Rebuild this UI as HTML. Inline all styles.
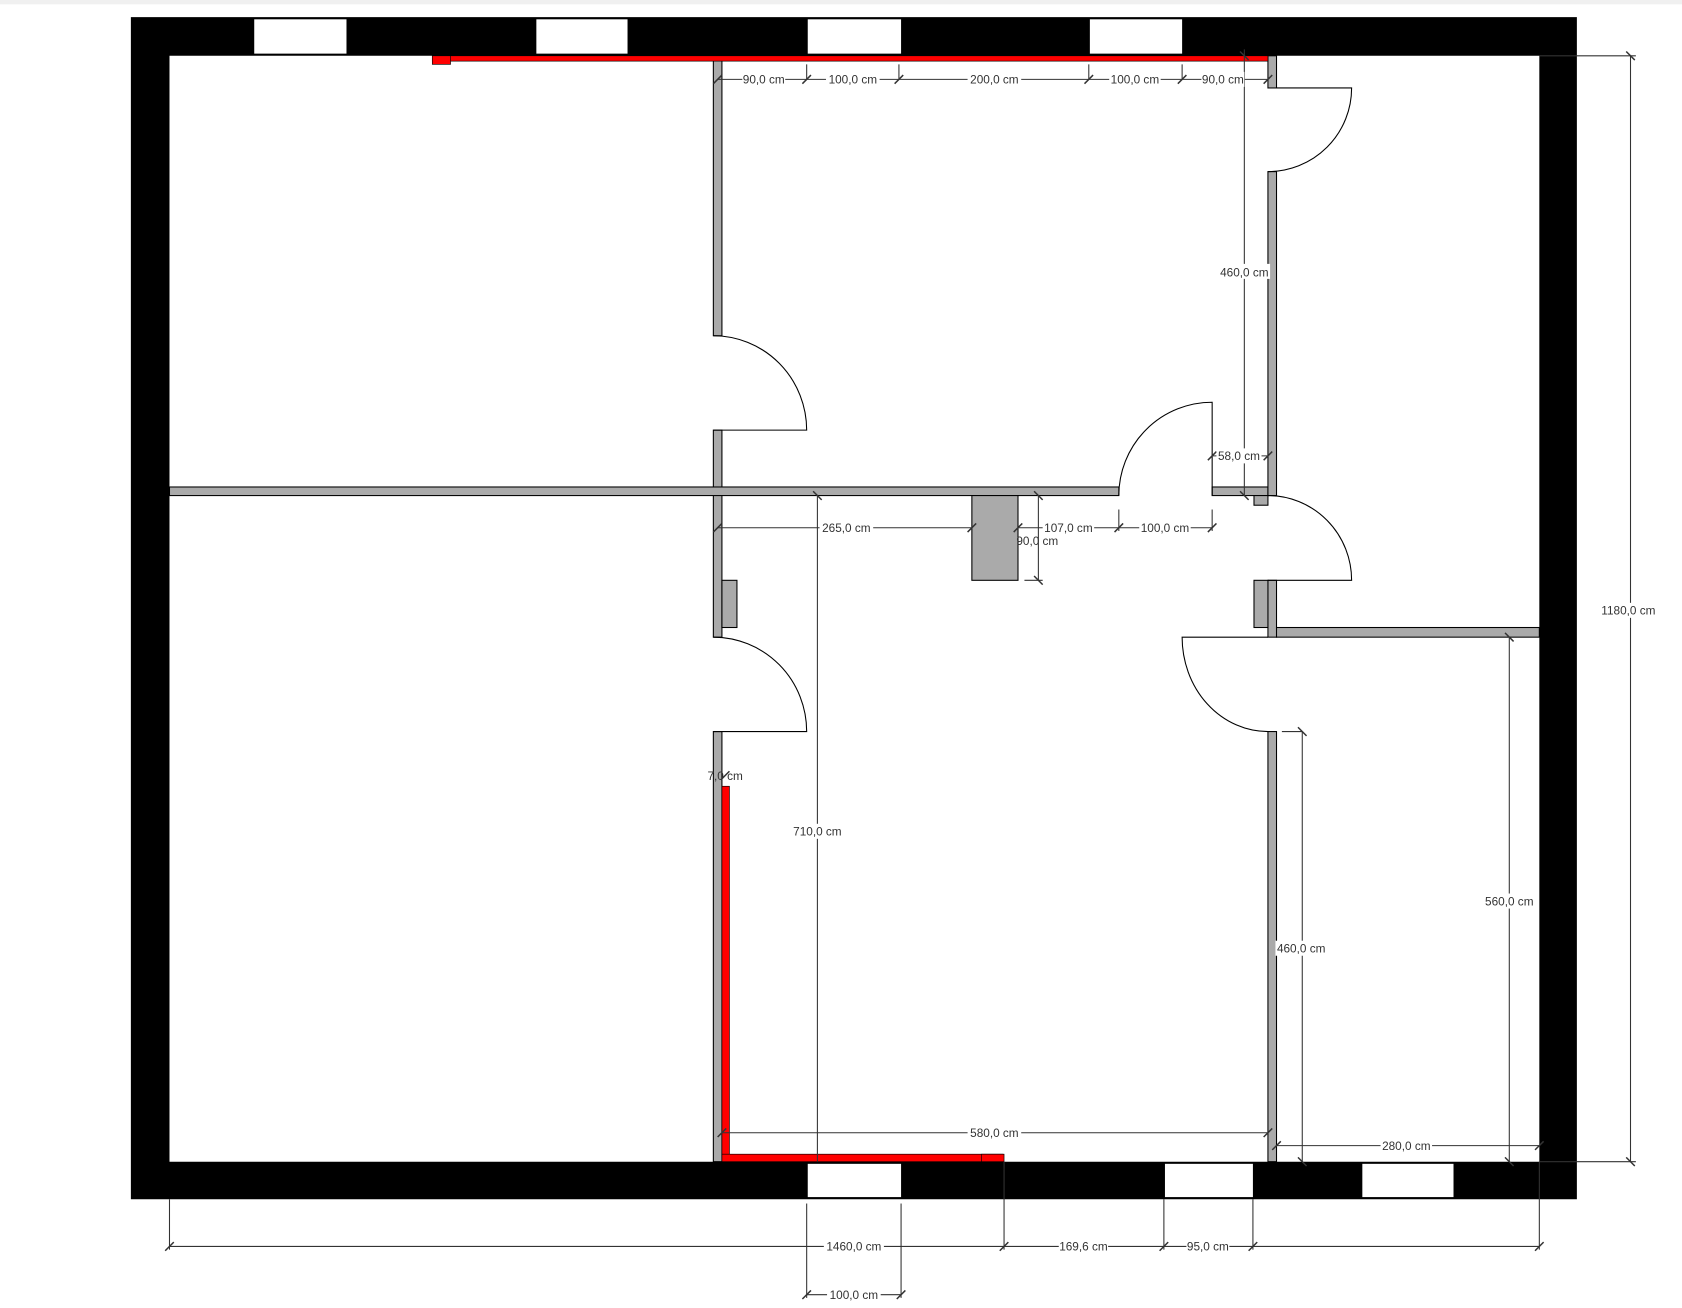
<!DOCTYPE html>
<html><head><meta charset="utf-8"><style>
html,body{margin:0;padding:0;background:#fff;}
svg{display:block;}
text{font-family:"Liberation Sans",sans-serif;font-size:11px;fill:#333;}
</style></head><body>
<svg width="1682" height="1308" viewBox="0 0 1568 1219.4" preserveAspectRatio="none" xmlns="http://www.w3.org/2000/svg">
<rect x="0" y="0" width="1568" height="4" fill="#f0f0f0"/>
<!-- outer walls -->
<path d="M122,16H1470V1118H122Z M158,52V1083H1435V52Z" fill="#000" fill-rule="evenodd"/>
<!-- windows -->
<g fill="#fff">
<rect x="237" y="18" width="86" height="32"/><rect x="500" y="18" width="85" height="32"/>
<rect x="753" y="18" width="87" height="32"/><rect x="1016" y="18" width="86" height="32"/>
<rect x="753" y="1085" width="87" height="31"/><rect x="1086" y="1085" width="82" height="31"/>
<rect x="1270" y="1085" width="85" height="31"/>
</g>
<!-- gray walls -->
<g fill="#aaa" stroke="#000" stroke-width="1">
<rect x="665" y="52" width="8" height="261"/>
<rect x="665" y="401" width="8" height="193"/>
<rect x="665" y="682" width="8" height="401"/>
<rect x="158" y="454" width="885" height="8"/>
<rect x="1130" y="454" width="52" height="8"/>
<rect x="1182" y="52" width="8" height="30"/>
<rect x="1182" y="160" width="8" height="302"/>
<rect x="1182" y="541" width="8" height="53"/>
<rect x="1190" y="585" width="245" height="9"/>
<rect x="1182" y="682" width="8" height="401"/>
<rect x="1169" y="462" width="13" height="9"/>
<rect x="1169" y="541" width="13" height="44"/>
<rect x="673" y="541" width="14" height="44"/>
<rect x="906" y="462" width="43" height="79"/>
</g>
<!-- red -->
<g fill="#f00" stroke="#000" stroke-width="0.6">
<rect x="403" y="52" width="779" height="5"/>
<rect x="403" y="52" width="17" height="8"/>
<rect x="673" y="733" width="7" height="350"/>
<rect x="673" y="1076" width="262" height="7"/>
<rect x="915" y="1076" width="21" height="7"/>
</g>
<!-- doors -->
<g fill="none" stroke="#000" stroke-width="1">
<path d="M665,401H752A87,88 0 0 0 665,313"/>
<path d="M665,682H752A87,88 0 0 0 665,594"/>
<path d="M1190,82H1260A78,78 0 0 1 1182,160"/>
<path d="M1130,462V375A87,87 0 0 0 1043,462"/>
<path d="M1182,541H1260A78,79 0 0 0 1182,462"/>
<path d="M1182,594H1102A80,88 0 0 0 1182,682"/>
</g>
<!-- dimension lines -->
<g stroke="#333" stroke-width="1" fill="none">
<line x1="669" y1="74" x2="1182" y2="74"/>
<line x1="1160" y1="46" x2="1160" y2="462"/>
<line x1="1130" y1="425" x2="1182" y2="425"/>
<line x1="669" y1="492" x2="906" y2="492"/>
<line x1="762" y1="462" x2="762" y2="1083"/>
<line x1="949" y1="492" x2="1130" y2="492"/>
<line x1="1043" y1="475" x2="1043" y2="495"/>
<line x1="1130" y1="475" x2="1130" y2="495"/>
<line x1="968" y1="462" x2="968" y2="541"/>
<line x1="955" y1="541" x2="972" y2="541"/>
<line x1="673" y1="1056" x2="1182" y2="1056"/>
<line x1="1190" y1="1068" x2="1435" y2="1068"/>
<line x1="1214" y1="682" x2="1214" y2="1083"/>
<line x1="1195" y1="682" x2="1214" y2="682"/>
<line x1="1407" y1="594" x2="1407" y2="1083"/>
<line x1="1520" y1="52" x2="1520" y2="1083"/>
<line x1="1435" y1="52" x2="1525" y2="52"/>
<line x1="1435" y1="1083" x2="1525" y2="1083"/>
<line x1="158" y1="1162" x2="1435" y2="1162"/>
<line x1="158" y1="1118" x2="158" y2="1165"/>
<line x1="936" y1="1083" x2="936" y2="1165"/>
<line x1="1085" y1="1118" x2="1085" y2="1165"/>
<line x1="1168" y1="1118" x2="1168" y2="1165"/>
<line x1="1435" y1="1083" x2="1435" y2="1165"/>
<line x1="752" y1="1122" x2="752" y2="1210"/>
<line x1="840" y1="1122" x2="840" y2="1210"/>
<line x1="752" y1="1207" x2="840" y2="1207"/>
<line x1="752" y1="60" x2="752" y2="74"/>
<line x1="838" y1="60" x2="838" y2="74"/>
<line x1="1015" y1="60" x2="1015" y2="74"/>
<line x1="1102" y1="60" x2="1102" y2="74"/>
</g>
<g stroke="#333" stroke-width="1.4">
<path d="M665,78l8,-8M748,78l8,-8M834,78l8,-8M1011,78l8,-8M1098,78l8,-8M1178,78l8,-8
M1156,48l8,8M1156,458l8,8M1126,429l8,-8M1178,429l8,-8
M665,496l8,-8M902,496l8,-8M758,458l8,8M945,496l8,-8M1039,496l8,-8M1126,496l8,-8
M964,458l8,8M964,537l8,8M672,727l8,-8M669,1060l8,-8M1178,1060l8,-8
M1186,1072l8,-8M1431,1072l8,-8M1210,678l8,8M1210,1079l8,8M1403,590l8,8M1403,1079l8,8
M1516,48l8,8M1516,1079l8,8M154,1166l8,-8M932,1166l8,-8M1081,1166l8,-8M1164,1166l8,-8M1431,1166l8,-8
M748,1211l8,-8M836,1211l8,-8"/>
</g>
<!-- labels -->
<g text-anchor="middle">
<g fill="#fff">
<rect x="692" y="67" width="40" height="14"/><rect x="770" y="67" width="50" height="14"/>
<rect x="902" y="67" width="50" height="14"/><rect x="1034" y="67" width="48" height="14"/>
<rect x="1120" y="67" width="40" height="14"/><rect x="1136" y="246" width="48" height="14"/>
<rect x="1134" y="418" width="42" height="14"/><rect x="764" y="485" width="50" height="14"/>
<rect x="972" y="485" width="48" height="14"/><rect x="1062" y="485" width="48" height="14"/>
<rect x="737" y="768" width="50" height="14"/><rect x="902" y="1049" width="50" height="14"/>
<rect x="1287" y="1061" width="48" height="14"/><rect x="1189" y="877" width="50" height="14"/>
<rect x="1383" y="833" width="50" height="14"/><rect x="1490" y="562" width="56" height="14"/>
<rect x="768" y="1155" width="56" height="14"/><rect x="987" y="1155" width="46" height="14"/>
<rect x="1106" y="1155" width="40" height="14"/><rect x="771" y="1200" width="50" height="14"/>
</g>
<text x="712" y="78">90,0 cm</text>
<text x="795" y="78">100,0 cm</text>
<text x="927" y="78">200,0 cm</text>
<text x="1058" y="78">100,0 cm</text>
<text x="1140" y="78">90,0 cm</text>
<text x="1160" y="258">460,0 cm</text>
<text x="1155" y="429">58,0 cm</text>
<text x="789" y="496">265,0 cm</text>
<text x="996" y="496">107,0 cm</text>
<text x="1086" y="496">100,0 cm</text>
<text x="967" y="508">90,0 cm</text>
<text x="676" y="727">7,0 cm</text>
<text x="762" y="779">710,0 cm</text>
<text x="927" y="1060">580,0 cm</text>
<text x="1311" y="1072">280,0 cm</text>
<text x="1213" y="888">460,0 cm</text>
<text x="1407" y="844">560,0 cm</text>
<text x="1518" y="573">1180,0 cm</text>
<text x="796" y="1166">1460,0 cm</text>
<text x="1010" y="1166">169,6 cm</text>
<text x="1126" y="1166">95,0 cm</text>
<text x="796" y="1211">100,0 cm</text>
</g>
</svg>
</body></html>
